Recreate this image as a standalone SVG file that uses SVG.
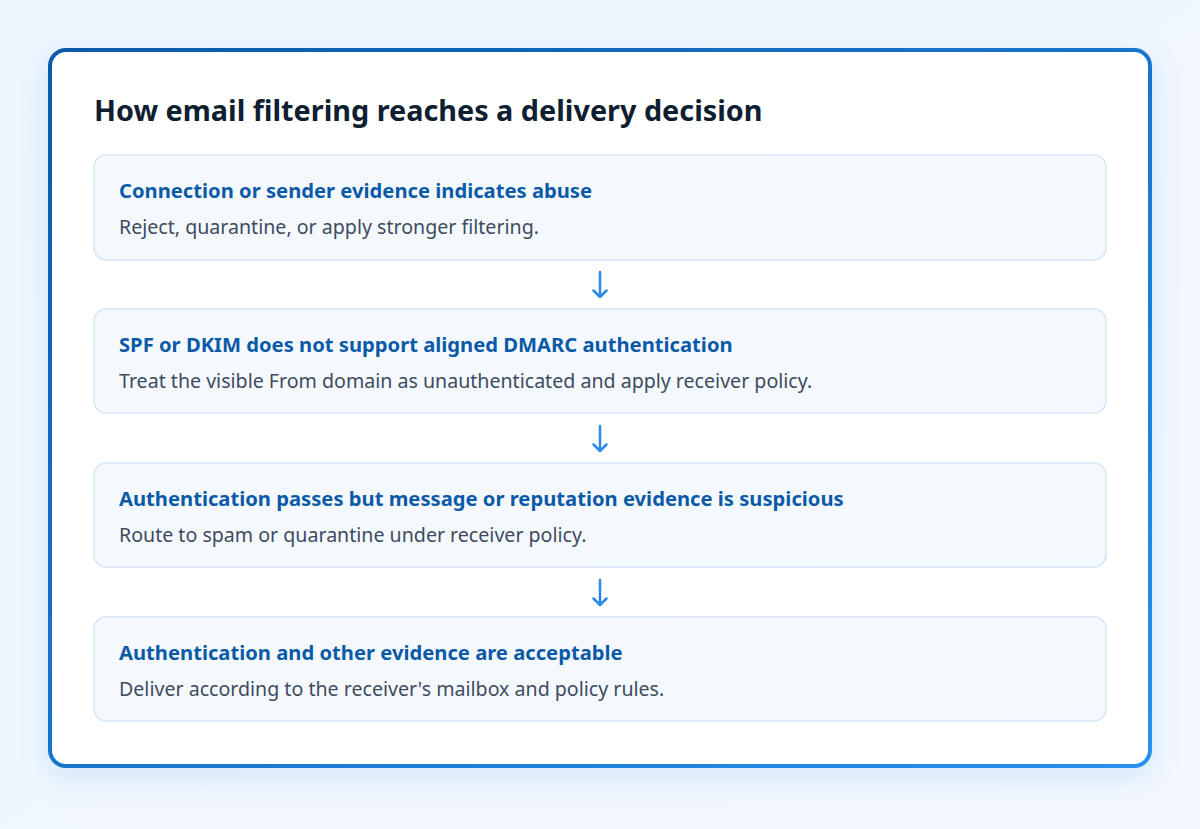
<svg xmlns="http://www.w3.org/2000/svg" width="1200" height="829" viewBox="0 0 1200 829">
  <defs>
    <linearGradient id="bg" x1="0" y1="0" x2="1" y2="1">
      <stop offset="0" stop-color="#eef5fd"/>
      <stop offset="1" stop-color="#f3f8fe"/>
    </linearGradient>
    <linearGradient id="border" x1="0" y1="0" x2="1" y2="1">
      <stop offset="0" stop-color="#0b59a9"/>
      <stop offset="1" stop-color="#2690f0"/>
    </linearGradient>
    <linearGradient id="boxfill" x1="0" y1="0" x2="1" y2="1">
      <stop offset="0" stop-color="#f5f9fe"/>
      <stop offset="1" stop-color="#f4f9ff"/>
    </linearGradient>
    <filter id="shadow" x="-10%" y="-10%" width="120%" height="130%">
      <feGaussianBlur in="SourceAlpha" stdDeviation="14"/>
      <feOffset dy="10" result="b"/>
      <feFlood flood-color="#2a7fd8" flood-opacity="0.14"/>
      <feComposite in2="b" operator="in"/>
      <feMerge><feMergeNode/><feMergeNode in="SourceGraphic"/></feMerge>
    </filter>
  </defs>
  <style>
    .box { fill: url(#boxfill); stroke: #d5e5f6; stroke-width: 1.5; }
    .h { font-family: "Noto Sans", "Liberation Sans", sans-serif; font-weight: 700; font-size: 20.2px; fill: #0b5aa8; }
    .d { font-family: "Noto Sans", "Liberation Sans", sans-serif; font-size: 19.6px; fill: #3e4b5e; }
    .title { font-family: "Noto Sans", "Liberation Sans", sans-serif; font-weight: 700; font-size: 28.8px; fill: #0f1e31; }
    .conn { fill: none; stroke: #2b8ae6; stroke-width: 2.5; stroke-linecap: round; stroke-linejoin: round; }
  </style>
  <rect width="1200" height="829" fill="url(#bg)"/>
  <g id="card">
    <rect x="50" y="50" width="1100" height="716" rx="16" fill="#ffffff" stroke="url(#border)" stroke-width="4" filter="url(#shadow)"/>
    <text class="title" x="94" y="121">How email filtering reaches a delivery decision</text>
  </g>
  <g id="node1">
    <rect class="box" x="94" y="155" width="1012" height="105" rx="12"/>
    <text class="h" x="119" y="198">Connection or sender evidence indicates abuse</text>
    <text class="d" x="119" y="234">Reject, quarantine, or apply stronger filtering.</text>
  </g>
  <g id="node2">
    <rect class="box" x="94" y="309" width="1012" height="104" rx="12"/>
    <text class="h" x="119" y="352">SPF or DKIM does not support aligned DMARC authentication</text>
    <text class="d" x="119" y="388">Treat the visible From domain as unauthenticated and apply receiver policy.</text>
  </g>
  <g id="node3">
    <rect class="box" x="94" y="463" width="1012" height="104" rx="12"/>
    <text class="h" x="119" y="506">Authentication passes but message or reputation evidence is suspicious</text>
    <text class="d" x="119" y="542">Route to spam or quarantine under receiver policy.</text>
  </g>
  <g id="node4">
    <rect class="box" x="94" y="617" width="1012" height="104" rx="12"/>
    <text class="h" x="119" y="660">Authentication and other evidence are acceptable</text>
    <text class="d" x="119" y="696">Deliver according to the receiver's mailbox and policy rules.</text>
  </g>
  <g id="connectors">
    <path class="conn" d="M600 272 V297 M593.5 290.5 L600 297 L606.5 290.5"/>
    <path class="conn" d="M600 426 V451 M593.5 444.5 L600 451 L606.5 444.5"/>
    <path class="conn" d="M600 580 V605 M593.5 598.5 L600 605 L606.5 598.5"/>
  </g>
</svg>
